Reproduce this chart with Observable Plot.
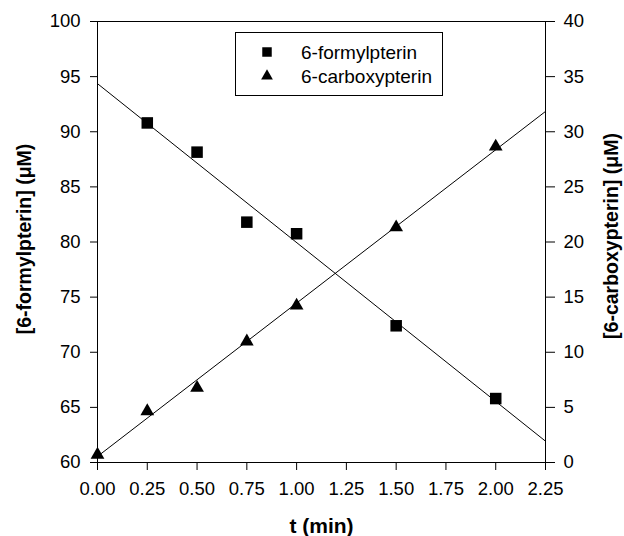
<!DOCTYPE html>
<html>
<head>
<meta charset="utf-8">
<script src="https://cdn.jsdelivr.net/npm/d3@7"></script>
<script src="https://cdn.jsdelivr.net/npm/@observablehq/plot@0.6"></script>
<style>
  html, body { margin: 0; padding: 0; background: #fff; }
  #chart { position: relative; width: 624px; height: 536px; font-family: "Liberation Sans", Arial, sans-serif; }
  #legend { position: absolute; left: 235px; top: 32px; width: 208px; height: 64px; box-sizing: border-box;
            border: 1px solid #000; background: #fff; }
  #legend svg { display: block; }
</style>
</head>
<body>
<div id="chart"><div id="legend"></div></div>
<script>
// Sampling times (min)
const tFormyl = [0.25, 0.5, 0.75, 1.0, 1.5, 2.0];
const tCarboxy = [0, 0.25, 0.5, 0.75, 1.0, 1.5, 2.0];
// Concentrations (µM)
const formyl = [90.8, 88.15, 81.8, 80.75, 72.4, 65.8];
const carboxy = [0.7, 4.65, 6.77, 10.97, 14.23, 21.33, 28.65];
// Axis ticks
const xTicks = [0, 0.25, 0.5, 0.75, 1.0, 1.25, 1.5, 1.75, 2.0, 2.25];
const leftTicks = [60, 65, 70, 75, 80, 85, 90, 95, 100];
const rightTicks = [0, 5, 10, 15, 20, 25, 30, 35, 40];
const seriesNames = ["6-formylpterin", "6-carboxypterin"];

// Right axis (0–40) shares the 40-unit span of the left axis (60–100)
const offset = 60;
const xDomain = [0, 2.25];

function fit(xs, ys) {
  const mx = d3.mean(xs), my = d3.mean(ys);
  const sxy = d3.sum(xs, (x, i) => (x - mx) * (ys[i] - my));
  const sxx = d3.sum(xs, x => (x - mx) ** 2);
  const b = sxy / sxx, a = my - b * mx;
  return xDomain.map(x => ({x, y: a + b * x}));
}

const formylData = tFormyl.map((t, i) => ({t, v: formyl[i]}));
const carboxyData = tCarboxy.map((t, i) => ({t, v: carboxy[i] + offset}));
const formylFit = fit(tFormyl, formyl);
const carboxyFit = fit(tCarboxy, carboxy).map(d => ({x: d.x, y: d.y + offset}));

const titleStyle = {text: d => d, lineAnchor: "middle", textAnchor: "middle", fontWeight: "bold"};

const chart = Plot.plot({
  width: 624,
  height: 536,
  marginLeft: 97,
  marginRight: 79,
  marginTop: 21,
  marginBottom: 74,
  style: {fontFamily: "'Liberation Sans', Arial, sans-serif", fontSize: "18.5px", color: "#000", background: "#fff", overflow: "visible"},
  x: {domain: xDomain},
  y: {domain: [60, 100]},
  marks: [
    Plot.frame({stroke: "#000", strokeWidth: 1}),
    Plot.axisX({ticks: xTicks, tickFormat: d3.format(".2f"), tickSize: 8, tickPadding: 11, label: null}),
    Plot.axisY({ticks: leftTicks, tickSize: 7, tickPadding: 10, label: null}),
    Plot.axisY({anchor: "right", ticks: rightTicks.map(d => d + offset), tickFormat: d => d - offset,
                tickSize: 9, tickPadding: 9, label: null}),
    Plot.line(formylFit, {x: "x", y: "y", stroke: "#000", strokeWidth: 1}),
    Plot.line(carboxyFit, {x: "x", y: "y", stroke: "#000", strokeWidth: 1}),
    Plot.dot(formylData, {x: "t", y: "v", symbol: "square", r: 6.5, fill: "#000", stroke: "none"}),
    Plot.dot(carboxyData, {x: "t", y: "v", symbol: "triangle", r: 5.1, fill: "#000", stroke: "none"}),
    Plot.text(["t (min)"], {...titleStyle, frameAnchor: "bottom", dy: 64, fontSize: 21}),
    Plot.text(["[6-formylpterin] (\u03bcM)"], {...titleStyle, frameAnchor: "left", dx: -73, dy: -3, rotate: -90, fontSize: 19.5}),
    Plot.text(["[6-carboxypterin] (\u03bcM)"], {...titleStyle, frameAnchor: "right", dx: 66, dy: -6, rotate: -90, fontSize: 19.5})
  ]
});
document.getElementById("chart").prepend(chart);

// Legend box
const legend = d3.select("#legend").append("svg").attr("width", 206).attr("height", 62);
const rows = [
  {name: seriesNames[0], symbol: d3.symbolSquare, size: 90},
  {name: seriesNames[1], symbol: d3.symbolTriangle, size: 60}
];
rows.forEach((r, i) => {
  const cy = 19 + i * 24;
  legend.append("path")
    .attr("transform", `translate(31,${cy})`)
    .attr("d", d3.symbol(r.symbol, r.size)())
    .attr("fill", "#000");
  legend.append("text")
    .attr("x", 65).attr("y", cy).attr("dy", "0.35em")
    .attr("font-family", "'Liberation Sans', Arial, sans-serif")
    .attr("font-size", 19)
    .text(r.name);
});
</script>
</body>
</html>
